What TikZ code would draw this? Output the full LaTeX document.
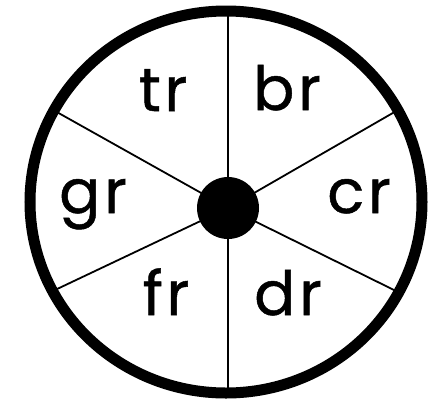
\documentclass[tikz,border=0pt]{standalone}
\usepackage{fontspec}
\setmainfont{Poppins}[LetterSpace=6, FakeBold=0.8]

\begin{document}
\begin{tikzpicture}[x=1pt, y=-1pt,
    ring/.style={draw=black, line width=11pt},
    spoke/.style={draw=black, line width=1.8pt},
    hub/.style={circle, fill=black, minimum size=62pt, inner sep=0pt},
    lab/.style={anchor=base, font=\fontsize{61}{64}\selectfont}
  ]
    \useasboundingbox (0,0) rectangle (428,400);
    \coordinate (c) at (228,208);
    \coordinate (top) at (228,12);
    \coordinate (bot) at (228,393);
    \coordinate (ur)  at (398,110);
    \coordinate (ul)  at (55,111);
    \coordinate (ll)  at (55,290);
    \coordinate (lr)  at (398,292);

    \draw[spoke] (c) -- (top);
    \draw[spoke] (c) -- (bot);
    \draw[spoke] (c) -- (ur);
    \draw[spoke] (c) -- (ul);
    \draw[spoke] (c) -- (ll);
    \draw[spoke] (c) -- (lr);
    \draw[ring] (226,202) ellipse [x radius=196, y radius=191];
    \node[hub] (hub) at (c) {};

    \node[lab] (tr) at (163,111) {tr};
    \node[lab] (br) at (287,110) {br};
    \node[lab] (gr) at (93,213)  {gr};
    \node[lab] (cr) at (359,213) {cr};
    \node[lab] (fr) at (166,315) {fr};
    \node[lab] (dr) at (288,315) {dr};
  \end{tikzpicture}
\end{document}
